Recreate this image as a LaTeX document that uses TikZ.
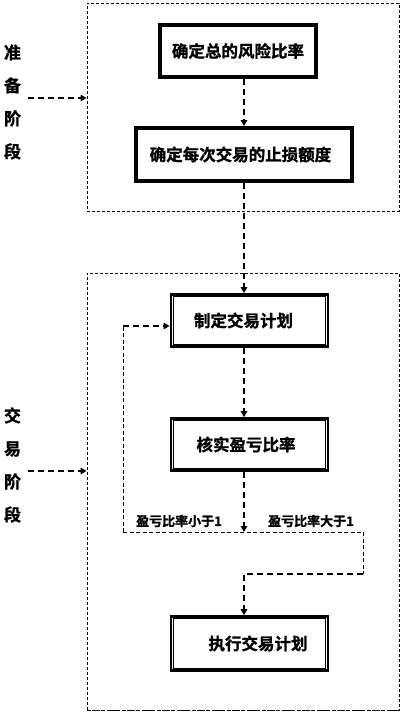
\documentclass[tikz,border=0pt]{standalone}
\usepackage{fontspec}
\setmainfont{Noto Sans CJK SC}[BoldFont={* Bold}, BoldFeatures={FakeBold=1.2}]
\usetikzlibrary{arrows.meta,calc}
\begin{document}
\begin{tikzpicture}[x=1pt,y=-1pt,
 box/.style={draw, line width=2.8pt, minimum width=157pt, minimum height=53pt, inner sep=0pt, font=\bfseries\fontsize{16.5}{18}\selectfont, fill=white},
 frame/.style={draw, line width=0.8pt, dash pattern=on 3pt off 2pt, inner sep=0pt},
 conn/.style={line width=1.6pt, dash pattern=on 6pt off 4pt, -{Triangle[width=6.5pt,length=6pt]}},
 thinl/.style={line width=0.9pt, dash pattern=on 4pt off 2.5pt},
 side/.style={font=\bfseries\fontsize{17}{33}\selectfont, align=center, inner sep=2pt},
 cond/.style={font=\bfseries\fontsize{13}{15}\selectfont, inner sep=1pt}]
\useasboundingbox[fill=white] (0,0) rectangle (418,721);
% frames
\node[frame, minimum width=312pt, minimum height=208pt] (f1) at (243,107) {};
\node[frame, minimum width=312pt, minimum height=437pt] (f2) at (243,491.5) {};
\draw[line width=1.2pt, dash pattern=on 4pt off 3pt] (f2.south west) -- (f2.south east);
% boxes
\node[box] (b1) at (238,51) {确定总的风险比率};
\node[box, minimum width=217pt, minimum height=54pt] (b2) at (244,154.5) {\hspace*{-7pt}确定每次交易的止损额度};
\node[box, minimum height=52pt] (b3) at (249.5,320.5) {制定交易计划\hspace*{12pt}};
\node[box, minimum height=52pt] (b4) at (249.5,444.5) {核实盈亏比率\hspace*{7pt}};
\node[box, minimum height=54pt] (b5) at (249.5,643.5) {\hspace*{17pt}执行交易计划};
\foreach \n in {b1,b2,b3,b4,b5}
  \draw[line width=0.8pt] ($(\n.north west)+(3.6,3.6)$) rectangle ($(\n.south east)+(-3.6,-3.6)$);
% side labels
\node[side] (s1) at (12.5,102) {准\\备\\阶\\段};
\node[side] (s2) at (12.5,465) {交\\易\\阶\\段};
\coordinate (p1) at ([shift={(5,-4)}]s1.east);
\coordinate (p2) at ([shift={(5,6)}]s2.east);
\draw[conn] (p1) -- (p1 -| f1.west);
\draw[conn] (p2) -- (p2 -| f2.west);
% main column
\coordinate (col) at (244,0);
\draw[conn] (b1.south -| col) -- (b2.north -| col);
\draw[conn] (b2.south -| col) -- (b3.north -| col);
\draw[conn] (b3.south -| col) -- (b4.north -| col);
\coordinate (sp) at (244,532);
\draw[conn] (b4.south -| col) -- (sp);
% branches
\coordinate (L) at (123,532);
\coordinate (R) at (363,532);
\coordinate (R2) at (363,574);
\coordinate (e3) at ([shift={(0,5.5)}]b3.west);
\draw[thinl] (L) -- (R);
\draw[thinl] (R) -- (R2);
\draw[thinl] (L) -- (L |- e3);
\draw[conn] (L |- e3) -- (e3);
\draw[conn] (R2) -- (R2 -| col) -- (b5.north -| col);
% condition labels
\node[cond] (c1) at (179,521) {盈亏比率小于1};
\node[cond] (c2) at (311,521) {盈亏比率大于1};
\end{tikzpicture}
\end{document}
